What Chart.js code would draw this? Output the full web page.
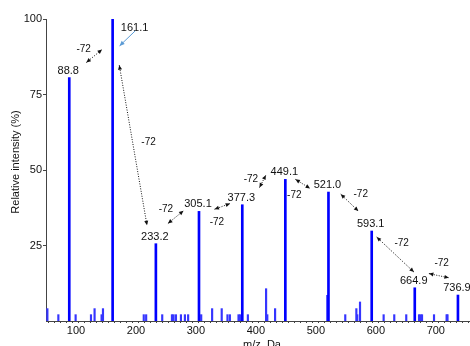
<!DOCTYPE html>
<html>
<head>
<meta charset="utf-8">
<script src="https://cdn.jsdelivr.net/npm/chart.js@4/dist/chart.umd.min.js"></script>
<style>
  html, body { margin: 0; padding: 0; background: #fff; }
  #wrap { width: 470px; height: 346px; }
</style>
</head>
<body>
<div id="wrap"><canvas id="spectrum"></canvas></div>
<script>
// Labelled fragment peaks (m/z, relative intensity %)
const peakMz = [88.8, 161.1, 233.2, 305.1, 377.3, 449.1, 521.0, 593.1, 664.9, 736.9];
const peakIntensity = [80.6, 100, 25.6, 36.3, 38.5, 46.9, 42.7, 29.8, 11.0, 8.6];
const peakLabels = ['88.8', '161.1', '233.2', '305.1', '377.3', '449.1', '521.0', '593.1', '664.9', '736.9'];

// Small background peaks
const minorMz = [52.3, 70.6, 99.4, 125, 131, 142.7, 145, 213, 217, 243.8, 260, 262.7, 266.7, 275, 281.6, 287,
  308.8, 327, 343, 352.6, 356.6, 371, 373.7, 386.6, 417, 419, 432, 519, 549, 567.5, 569, 573.6,
  613, 630.7, 650.7, 672, 674.5, 677, 697, 718, 719.5];
const minorIntensity = [4.1, 2.1, 2.1, 2.1, 4.1, 2.1, 4.1, 2.1, 2.1, 2.1, 2.1, 2.1, 2.1, 2.1, 2.1, 2.1,
  2.1, 4.1, 4.1, 2.1, 2.1, 2.1, 2.1, 2.1, 10.7, 2.1, 4.1, 8.5, 2.1, 4.1, 2.1, 6.3,
  2.1, 2.1, 2.1, 2.1, 2.1, 2.1, 2.1, 2.1, 2.1];

// Neutral loss between consecutive fragments
const neutralLoss = '-72';

// Axis ticks
const xTickLabels = [100, 200, 300, 400, 500, 600, 700];
const yTickLabels = [25, 50, 75, 100];
const xTitle = 'm/z, Da';
const yTitle = 'Relative intensity (%)';

const FONT = '"Liberation Sans", Arial, Helvetica, sans-serif';
const TEXT = '#111';

// Dotted double-headed loss arrows, anchored in data units (m/z, %)
const lossArrows = [
  { from: [117.3, 85.6], to: [143.4, 89.9], text: [112.8, 90.0] },
  { from: [172.2, 84.7], to: [218.4, 31.7], text: [221.0, 59.3] },
  { from: [253.3, 32.3], to: [279.3, 36.5], text: [250.0, 36.9] },
  { from: [331.0, 37.0], to: [357.0, 38.9], text: [335.0, 32.8] },
  { from: [406.0, 44.2], to: [416.6, 48.3], text: [391.6, 47.0] },
  { from: [465.9, 46.9], to: [490.3, 43.9], text: [464.0, 41.7] },
  { from: [541.5, 42.0], to: [570.8, 36.4], text: [574.8, 42.0] },
  { from: [601.4, 27.8], to: [663.5, 16.2], text: [643.0, 25.7] },
  { from: [688.5, 15.7], to: [721.8, 14.3], text: [709.7, 19.0] }
];

// Base peak label sits beside the peak with a pointer
const basePeakCallout = { text: [197.7, 97.2], from: [198.9, 96.1], to: [172.7, 91.1] };

function arrowHead(ctx, tipX, tipY, fromX, fromY, len, half) {
  const a = Math.atan2(tipY - fromY, tipX - fromX);
  const c = Math.cos(a), s = Math.sin(a);
  ctx.beginPath();
  ctx.moveTo(tipX, tipY);
  ctx.lineTo(tipX - len * c + half * s, tipY - len * s - half * c);
  ctx.lineTo(tipX - len * c - half * s, tipY - len * s + half * c);
  ctx.closePath();
  ctx.fill();
}

const annotations = {
  id: 'spectrumAnnotations',
  afterDraw(chart) {
    const { ctx, scales: { x, y } } = chart;
    const px = v => x.getPixelForValue(v);
    const py = v => y.getPixelForValue(v);
    ctx.save();

    // peak value labels
    ctx.font = '11px ' + FONT;
    ctx.fillStyle = TEXT;
    ctx.textAlign = 'center';
    ctx.textBaseline = 'alphabetic';
    peakLabels.forEach((lbl, i) => {
      if (i === 1) {
        ctx.fillText(lbl, px(basePeakCallout.text[0]), py(basePeakCallout.text[1]) + 4);
      } else {
        ctx.fillText(lbl, px(peakMz[i]) - 1, py(peakIntensity[i]) - 4);
      }
    });

    // pointer from base peak label
    ctx.strokeStyle = '#5b9bd5';
    ctx.fillStyle = '#5b9bd5';
    ctx.lineWidth = 1;
    const bx1 = px(basePeakCallout.from[0]), by1 = py(basePeakCallout.from[1]);
    const bx2 = px(basePeakCallout.to[0]), by2 = py(basePeakCallout.to[1]);
    ctx.beginPath();
    ctx.moveTo(bx1, by1);
    ctx.lineTo(bx2, by2);
    ctx.stroke();
    arrowHead(ctx, bx2, by2, bx1, by1, 5, 2.2);

    // loss arrows and labels
    ctx.strokeStyle = '#111';
    ctx.fillStyle = '#111';
    lossArrows.forEach(a => {
      const x1 = px(a.from[0]), y1 = py(a.from[1]);
      const x2 = px(a.to[0]), y2 = py(a.to[1]);
      ctx.setLineDash([1, 1.5]);
      ctx.beginPath();
      ctx.moveTo(x1, y1);
      ctx.lineTo(x2, y2);
      ctx.stroke();
      ctx.setLineDash([]);
      arrowHead(ctx, x1, y1, x2, y2, 4.5, 2);
      arrowHead(ctx, x2, y2, x1, y1, 4.5, 2);
    });
    ctx.font = '10px ' + FONT;
    ctx.textBaseline = 'middle';
    ctx.textAlign = 'center';
    lossArrows.forEach(a => {
      ctx.fillText(neutralLoss, px(a.text[0]), py(a.text[1]));
    });

    // axis titles
    ctx.font = '11px ' + FONT;
    ctx.fillStyle = TEXT;
    ctx.textAlign = 'center';
    ctx.textBaseline = 'middle';
    ctx.fillText(xTitle, 262, 345);
    ctx.translate(16, 162);
    ctx.rotate(-Math.PI / 2);
    ctx.fillText(yTitle, 0, 0);
    ctx.restore();
  }
};

new Chart(document.getElementById('spectrum'), {
  type: 'bar',
  data: {
    datasets: [
      {
        data: peakMz.map((m, i) => ({ x: m, y: peakIntensity[i] })),
        backgroundColor: '#0000ff',
        barThickness: 2,
        grouped: false
      },
      {
        data: minorMz.map((m, i) => ({ x: m, y: minorIntensity[i] })),
        backgroundColor: '#3535ff',
        barThickness: 1.5,
        grouped: false
      }
    ]
  },
  options: {
    responsive: true,
    maintainAspectRatio: false,
    animation: false,
    layout: { padding: { top: 19, right: 0, bottom: 0, left: 0 } },
    plugins: { legend: { display: false }, tooltip: { enabled: false } },
    scales: {
      x: {
        type: 'linear',
        min: 50,
        max: 757,
        offset: false,
        afterBuildTicks: s => {
          const t = [];
          for (let v = 50; v <= 750; v += 10) t.push({ value: v });
          s.ticks = t;
        },
        afterFit: s => { s.height = 25; },
        grid: { drawOnChartArea: false, drawTicks: true, tickLength: 2, color: '#444' },
        border: { display: true, color: '#444', width: 1 },
        ticks: {
          autoSkip: false,
          maxRotation: 0,
          padding: 1,
          color: TEXT,
          font: { family: FONT, size: 11 },
          callback: v => (xTickLabels.includes(v) ? String(v) : '')
        }
      },
      y: {
        min: 0,
        max: 100,
        afterBuildTicks: s => { s.ticks = yTickLabels.map(v => ({ value: v })); },
        afterFit: s => { s.width = 46; },
        grid: { drawOnChartArea: false, drawTicks: true, tickLength: 3, color: '#444' },
        border: { display: true, color: '#444', width: 1 },
        ticks: { padding: 1, color: TEXT, font: { family: FONT, size: 11 } }
      }
    }
  },
  plugins: [annotations]
});
</script>
</body>
</html>
